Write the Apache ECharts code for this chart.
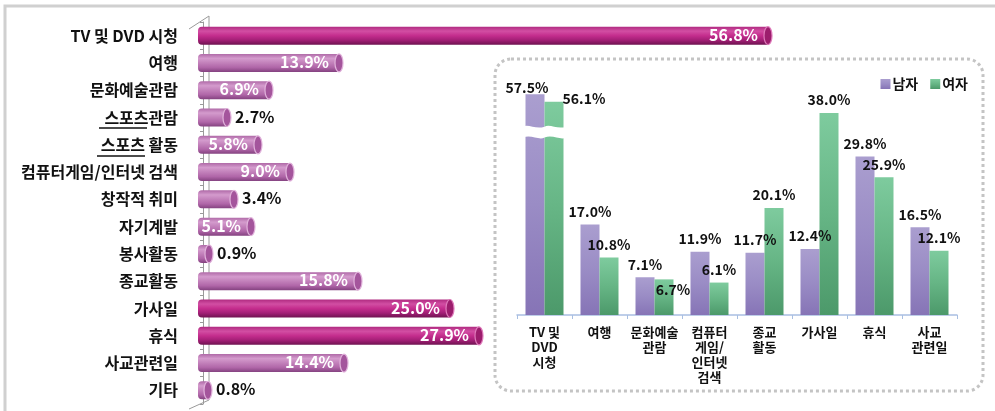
<!DOCTYPE html>
<html>
<head>
<meta charset="utf-8">
<script src="https://cdn.jsdelivr.net/npm/echarts@6/dist/echarts.min.js"></script>
<style>
  html, body { margin: 0; padding: 0; background: #fff; }
  #chart { width: 995px; height: 411px; }
</style>
</head>
<body>
<div id="chart"></div>
<script>
// left: all respondents
const activities = ['TV 및 DVD 시청', '여행', '문화예술관람', '스포츠관람', '스포츠 활동',
  '컴퓨터게임/인터넷 검색', '창작적 취미', '자기계발', '봉사활동', '종교활동',
  '가사일', '휴식', '사교관련일', '기타'];
const totalPct = [56.8, 13.9, 6.9, 2.7, 5.8, 9.0, 3.4, 5.1, 0.9, 15.8, 25.0, 27.9, 14.4, 0.8];

// right inset: by gender
const genderCats = ['TV 및\nDVD\n시청', '여행', '문화예술\n관람', '컴퓨터\n게임/\n인터넷\n검색',
  '종교\n활동', '가사일', '휴식', '사교\n관련일'];
const malePct = [57.5, 17.0, 7.1, 11.9, 11.7, 12.4, 29.8, 16.5];
const femalePct = [56.1, 10.8, 6.7, 6.1, 20.1, 38.0, 25.9, 12.1];

const FONT = '"Noto Sans CJK KR", "Noto Sans", sans-serif';

function vgrad(stops) {
  return new echarts.graphic.LinearGradient(0, 0, 0, 1,
    stops.map((c, i) => ({ offset: i / (stops.length - 1), color: c })));
}

const darkBar = ['#b02a80', '#d24ea3', '#c42d8d', '#a31f76', '#6f1250'];
const lightBar = ['#b06aa8', '#d49bcd', '#c280ba', '#b066a8', '#844280'];

function renderCylinder(params, api) {
  const v = api.value(0);
  const cat = api.value(1);
  const p0 = api.coord([0, cat]);
  const p1 = api.coord([v, cat]);
  const h = 18;
  const top = p0[1] - h / 2;
  const dark = v >= 20;
  const endX = p1[0] - 3;
  const inside = v >= 5;
  return {
    type: 'group',
    children: [
      {
        type: 'rect',
        shape: { x: p0[0] - 5, y: top, width: endX - (p0[0] - 5), height: h, r: [4, 0, 0, 4] },
        style: { fill: vgrad(dark ? darkBar : lightBar) }
      },
      {
        type: 'ellipse',
        shape: { cx: endX, cy: p0[1], rx: 4, ry: h / 2 },
        style: { fill: dark ? '#9c1d6d' : '#a4559c', stroke: dark ? '#e07cbc' : '#e2b4dc', lineWidth: 1.2 }
      },
      {
        type: 'text',
        style: {
          text: v.toFixed(1) + '%',
          x: inside ? endX - 10 : endX + 8,
          y: p0[1] - 1,
          align: inside ? 'right' : 'left',
          verticalAlign: 'middle',
          fill: inside ? '#fff' : '#111',
          font: 'bold 16px ' + FONT
        }
      }
    ]
  };
}

// white wavy band across the broken TV bars
function renderBreak(params, api) {
  const c = api.coord([api.value(0), api.value(1)]);
  const w = api.size([1, 0])[0];
  const bw = w * 0.75;
  return {
    type: 'path',
    shape: {
      pathData: 'M0,3 C5,0 12,6 20,3 C25,0 32,6 40,3 L40,13 C35,16 28,10 20,13 C15,16 8,10 0,13 Z',
      x: c[0] - bw / 2 - 1, y: c[1] - 8, width: bw + 2, height: 16
    },
    style: { fill: '#fff' }
  };
}

const chart = echarts.init(document.getElementById('chart'));

chart.setOption({
  animation: false,
  textStyle: { fontFamily: FONT },
  graphic: [
    { type: 'rect', z: -10, shape: { x: 5, y: 6, width: 1000, height: 420 },
      style: { fill: 'none', stroke: '#d0d0d0', lineWidth: 3 } },
    { type: 'polyline', z: -5, shape: { points: [[189, 29], [209, 16], [209, 400], [189, 409]] },
      style: { fill: 'none', stroke: '#9a9a9a', lineWidth: 1 } },
    { type: 'rect', z: -5, shape: { x: 495, y: 59, width: 488, height: 332, r: 16 },
      style: { fill: '#fff', stroke: '#c4c4c4', lineWidth: 3, lineDash: [3, 3] } },
    { type: 'line', shape: { x1: 99, y1: 128, x2: 147, y2: 128 }, style: { stroke: '#111', lineWidth: 1.3 } },
    { type: 'line', shape: { x1: 97, y1: 156, x2: 145, y2: 156 }, style: { stroke: '#111', lineWidth: 1.3 } }
  ],
  legend: {
    right: 22, top: 72,
    itemWidth: 10, itemHeight: 10, itemGap: 12,
    icon: 'rect', selectedMode: false,
    data: ['남자', '여자'],
    textStyle: { fontFamily: FONT, fontSize: 14, fontWeight: 'bold', color: '#111', padding: [0, 0, 0, -3] }
  },
  grid: [
    { left: 203, top: 22, width: 600, height: 382 },
    { left: 517, top: 89, width: 440, height: 226 }
  ],
  xAxis: [
    { gridIndex: 0, type: 'value', min: 0, max: 60, show: false },
    {
      gridIndex: 1, type: 'category', data: genderCats,
      axisLine: { lineStyle: { color: '#a9bfe2', width: 1.5 } },
      axisTick: { show: true, length: 4, lineStyle: { color: '#a9bfe2' } },
      axisLabel: { interval: 0, margin: 10, fontFamily: FONT, fontSize: 13, fontWeight: 'bold', color: '#111', lineHeight: 15 }
    }
  ],
  yAxis: [
    {
      gridIndex: 0, type: 'category', data: activities, inverse: true, offset: 14,
      axisLine: { lineStyle: { color: '#9a9a9a' } },
      axisTick: { show: true, length: 3, lineStyle: { color: '#9a9a9a' } },
      axisLabel: { margin: 11, fontFamily: FONT, fontSize: 16, fontWeight: 'bold', color: '#111', padding: [9, 0, 0, 0] }
    },
    {
      gridIndex: 1, type: 'value', min: 0, max: 58.5, show: false,
      breaks: [{ start: 39, end: 55, gap: 0 }],
      breakArea: { show: false },
      splitLine: { show: false }
    }
  ],
  series: [
    {
      type: 'custom', xAxisIndex: 0, yAxisIndex: 0,
      renderItem: renderCylinder,
      encode: { x: 0, y: 1 },
      data: totalPct.map((v, i) => [v, i])
    },
    {
      name: '남자', type: 'bar', xAxisIndex: 1, yAxisIndex: 1,
      barWidth: 19, barGap: '0%',
      itemStyle: { color: vgrad(['#aa9ecf', '#9a8cc5', '#8674b6']) },
      label: { show: true, position: 'top', distance: 6, formatter: p => p.value.toFixed(1) + '%',
        fontFamily: FONT, fontSize: 14, fontWeight: 'bold', color: '#111' },
      data: malePct.map((v, i) => i === 0 ? { value: v, label: { offset: [-8, 6] } } : v)
    },
    {
      name: '여자', type: 'bar', xAxisIndex: 1, yAxisIndex: 1,
      barWidth: 19,
      itemStyle: { color: vgrad(['#7ecb9e', '#66b585', '#4c996a']) },
      label: { show: true, position: 'top', distance: 6, formatter: p => p.value.toFixed(1) + '%',
        fontFamily: FONT, fontSize: 14, fontWeight: 'bold', color: '#111' },
      data: femalePct.map((v, i) => {
        if (i === 0) return { value: v, label: { offset: [30, 10] } };
        if (i === 2) return { value: v, label: { offset: [9, 23] } };
        return v;
      })
    },
    {
      type: 'custom', xAxisIndex: 1, yAxisIndex: 1, z: 5,
      renderItem: renderBreak,
      encode: { x: 0, y: 1 },
      data: [[0, 34.4]]
    }
  ]
});
</script>
</body>
</html>
